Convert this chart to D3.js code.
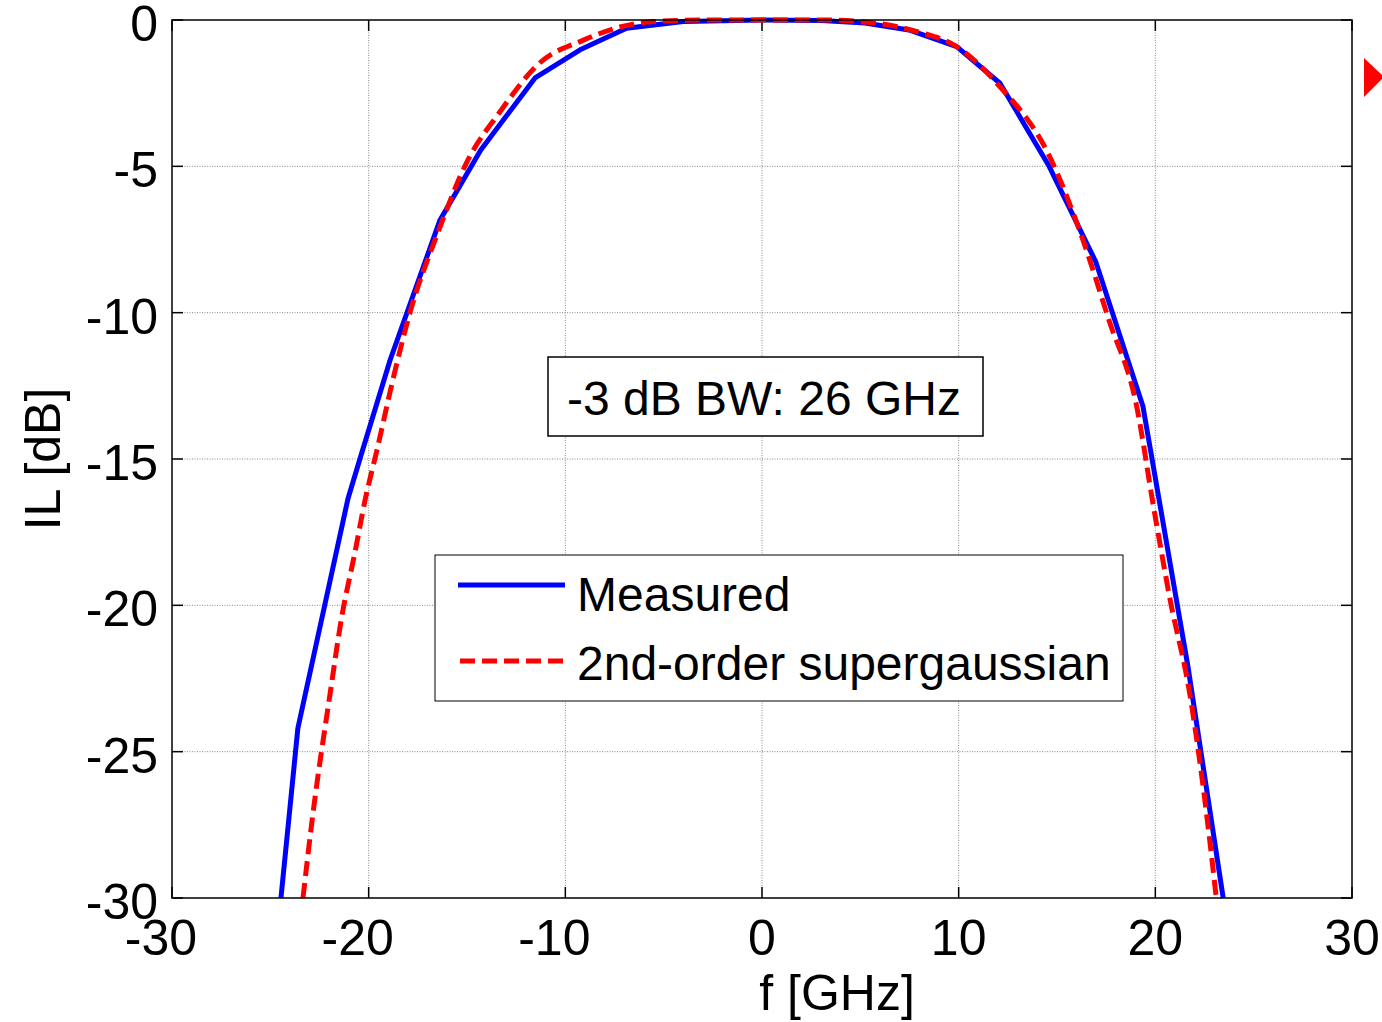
<!DOCTYPE html>
<html>
<head>
<meta charset="utf-8">
<script src="https://cdn.jsdelivr.net/npm/d3@7"></script>
<style>
  body { margin: 0; background: #fff; }
  text { font-family: "Liberation Sans", Arial, sans-serif; fill: #000; }
</style>
</head>
<body>
<div id="chart"></div>
<script>
// Measured insertion loss
const measuredF  = [-24.46, -23.6, -21.05, -20.4, -18.9, -16.37, -14.3, -11.54, -9.25, -6.89, -4, 0, 3, 5.24, 7.47, 9.9, 12.1, 14.6, 16.97, 19.37, 21.66, 23.45];
const measuredIL = [-30, -24.2, -16.35, -14.9, -11.6, -6.83, -4.44, -1.98, -1.02, -0.28, -0.05, 0, -0.02, -0.1, -0.34, -0.91, -2.16, -5.0, -8.26, -13.2, -22.1, -30];

// 2nd-order supergaussian fit
const fitF  = [-23.34, -22.83, -21.97, -21.36, -20.7, -20.19, -19.58, -18.76, -17.9, -16.5, -14.95, -13.37, -11.31, -9.05, -7.22, -5.64, -3, 0, 3, 5.7, 7.9, 9.9, 12.1, 14.54, 16.31, 17.64, 19.05, 19.9, 20.75, 21.76, 22.6, 23.1];
const fitIL = [-30, -27.1, -23.06, -20.36, -18.2, -16.43, -14.7, -12.27, -10.0, -7.3, -4.78, -3.18, -1.47, -0.68, -0.24, -0.06, 0, 0, 0, -0.1, -0.4, -0.91, -2.28, -4.55, -7.5, -10.25, -13.2, -16.6, -19.8, -23.06, -27.1, -30];

const xTicks = [-30, -20, -10, 0, 10, 20, 30];
const yTicks = [0, -5, -10, -15, -20, -25, -30];
const seriesNames = ["Measured", "2nd-order supergaussian"];
const annotation = "-3 dB BW: 26 GHz";

const W = 1382, H = 1022;
const L = 172, R = 1352, T = 20, B = 898;
const FS = 48;      // text in boxes
const TFS = 50;     // tick labels

const svg = d3.select("#chart").append("svg")
    .attr("width", W).attr("height", H)
    .style("background", "#fff");

const x = d3.scaleLinear().domain([-30, 30]).range([L, R]);
const y = d3.scaleLinear().domain([-30, 0]).range([B, T]);

// grid
const grid = svg.append("g")
    .attr("stroke", "#888").attr("stroke-width", 1).attr("stroke-dasharray", "1,1.5");
grid.selectAll("line.gx").data(xTicks.slice(1, -1)).join("line")
    .attr("x1", d => x(d)).attr("x2", d => x(d)).attr("y1", T).attr("y2", B);
grid.selectAll("line.gy").data(yTicks.slice(1, -1)).join("line")
    .attr("y1", d => y(d)).attr("y2", d => y(d)).attr("x1", L).attr("x2", R);

// ticks on all four sides, pointing inward
const tl = 11;
const ticks = svg.append("g").attr("stroke", "#000").attr("stroke-width", 1.5);
xTicks.forEach(d => {
    ticks.append("line").attr("x1", x(d)).attr("x2", x(d)).attr("y1", B).attr("y2", B - tl);
    ticks.append("line").attr("x1", x(d)).attr("x2", x(d)).attr("y1", T).attr("y2", T + tl);
});
yTicks.forEach(d => {
    ticks.append("line").attr("y1", y(d)).attr("y2", y(d)).attr("x1", L).attr("x2", L + tl);
    ticks.append("line").attr("y1", y(d)).attr("y2", y(d)).attr("x1", R).attr("x2", R - tl);
});

// tick labels (minus sign hangs left of the centred digits)
svg.append("g").selectAll("text").data(xTicks).join("text")
    .attr("x", d => x(d) - (d < 0 ? 11 : 0)).attr("y", 955)
    .attr("text-anchor", "middle").style("font-size", TFS + "px")
    .text(d => d);
svg.append("g").selectAll("text").data(yTicks).join("text")
    .attr("x", 158).attr("y", d => y(d) + 21)
    .attr("text-anchor", "end").style("font-size", TFS + "px")
    .text(d => d);

// axis labels
svg.append("text").attr("x", 837).attr("y", 1010)
    .attr("text-anchor", "middle").style("font-size", "50px").text("f [GHz]");
svg.append("text").attr("transform", "translate(60,459) rotate(-90)")
    .attr("text-anchor", "middle").style("font-size", "50px").text("IL [dB]");

// curves
const plot = svg.append("g");
const lineM = d3.line().x(d => x(d[0])).y(d => y(d[1]));
const lineF = d3.line().x(d => x(d[0])).y(d => y(d[1])).curve(d3.curveMonotoneX);

plot.append("path")
    .datum(d3.zip(measuredF, measuredIL))
    .attr("d", lineM)
    .attr("fill", "none").attr("stroke", "#0000ff").attr("stroke-width", 5)
    .attr("stroke-linejoin", "round");
plot.append("path")
    .datum(d3.zip(fitF, fitIL))
    .attr("d", lineF)
    .attr("fill", "none").attr("stroke", "#ff0000").attr("stroke-width", 5)
    .attr("stroke-dasharray", "15,7");

// plot box
svg.append("rect").attr("x", L).attr("y", T).attr("width", R - L).attr("height", B - T)
    .attr("fill", "none").attr("stroke", "#000").attr("stroke-width", 1.5);

// annotation box
svg.append("rect").attr("x", 548).attr("y", 357).attr("width", 435).attr("height", 79)
    .attr("fill", "#fff").attr("stroke", "#000").attr("stroke-width", 1.5);
svg.append("text").attr("x", 764).attr("y", 415).attr("text-anchor", "middle")
    .style("font-size", FS + "px").text(annotation);

// legend
const leg = svg.append("g");
leg.append("rect").attr("x", 435).attr("y", 555).attr("width", 688).attr("height", 146)
    .attr("fill", "#fff").attr("stroke", "#000").attr("stroke-width", 1);
leg.append("line").attr("x1", 458).attr("x2", 565).attr("y1", 585).attr("y2", 585)
    .attr("stroke", "#0000ff").attr("stroke-width", 5);
leg.append("line").attr("x1", 460).attr("x2", 567).attr("y1", 661).attr("y2", 661)
    .attr("stroke", "#ff0000").attr("stroke-width", 5).attr("stroke-dasharray", "15,7");
leg.selectAll("text").data(seriesNames).join("text")
    .attr("x", 577).attr("y", (d, i) => i === 0 ? 611 : 680)
    .style("font-size", FS + "px").text(d => d);

// red marker at right edge
svg.append("path")
    .attr("d", `M1364,58 L1384,77 L1364,97 Z`)
    .attr("fill", "#ff0000");
</script>
</body>
</html>
